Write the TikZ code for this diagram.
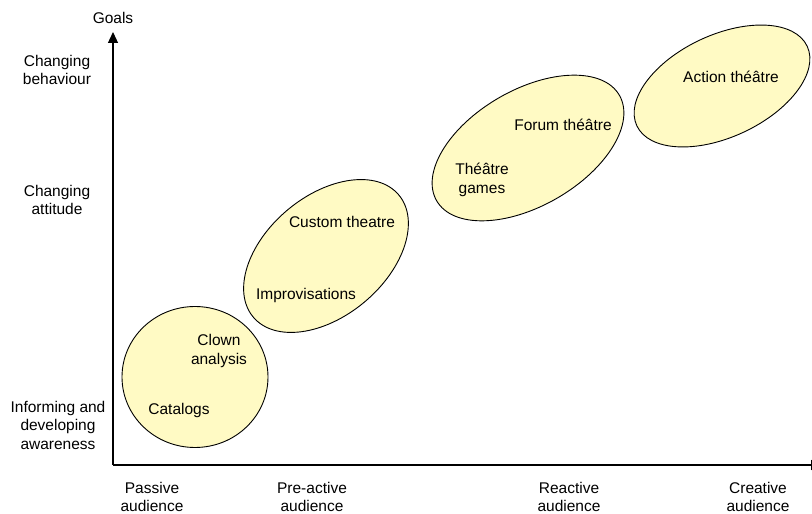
\documentclass[tikz,border=0pt]{standalone}
\usepackage{fontspec}
\setmainfont{Liberation Sans}
\usetikzlibrary{positioning,arrows.meta,shapes.geometric}
\definecolor{bubble}{RGB}{255,250,196}

\begin{document}
\begin{tikzpicture}[x=1pt, y=1pt,
  every node/.style={font=\fontsize{15.5}{18.5}\selectfont},
  blob/.style={draw, ellipse, fill=bubble, line width=0.9pt, inner sep=0pt},
  lbl/.style={align=center, inner sep=1pt},
  axis/.style={line width=1.2pt, -{Triangle[length=11pt, width=10pt]}}
]
  \useasboundingbox (0,0) rectangle (812,514);

  % Axes
  \coordinate (origin) at (113,49);
  \coordinate (ytop)   at (113,482);
  \coordinate (xend)   at (822,49);
  \draw[axis] (origin) -- (ytop);
  \draw[axis] (origin) -- (xend);
  \node[above=5pt of ytop] (goals) {Goals};

  % Goal levels on left
  \node[lbl] (behav)  at (57,444) {Changing\\behaviour};
  \node[lbl] (attit)  at (57,314) {Changing\\attitude};
  \node[lbl] (inform) at (58,89)  {Informing and\\developing\\awareness};

  % Audience types below
  \node[lbl] (passive)   at (152,17) {Passive\\audience};
  \node[lbl] (preactive) at (312,17) {Pre-active\\audience};
  \node[lbl] (reactive)  at (569,17) {Reactive\\audience};
  \node[lbl] (creative)  at (758,17) {Creative\\audience};

  % Clusters
  \node[blob, minimum width=146pt, minimum height=141pt] (passblob) at (195,137) {};
  \node[blob, minimum width=190pt, minimum height=120pt, rotate=40] (preblob) at (326,258) {};
  \node[blob, minimum width=211pt, minimum height=116pt, rotate=30] (reblob) at (528,366) {};
  \node[blob, minimum width=188pt, minimum height=102pt, rotate=25] (creblob) at (722,428) {};

  % Methods
  \node[lbl] (clown)    at (219,163) {Clown\\analysis};
  \node[lbl] (catalogs) at (179,104) {Catalogs};
  \node[lbl] (improv)   at (306,219) {Improvisations};
  \node[lbl] (custom)   at (342,292) {Custom theatre};
  \node[lbl] (forum)    at (563,389) {Forum théâtre};
  \node[lbl] (games)    at (482,334) {Théâtre\\games};
  \node[lbl] (action)   at (731,437) {Action théâtre};
\end{tikzpicture}
\end{document}
